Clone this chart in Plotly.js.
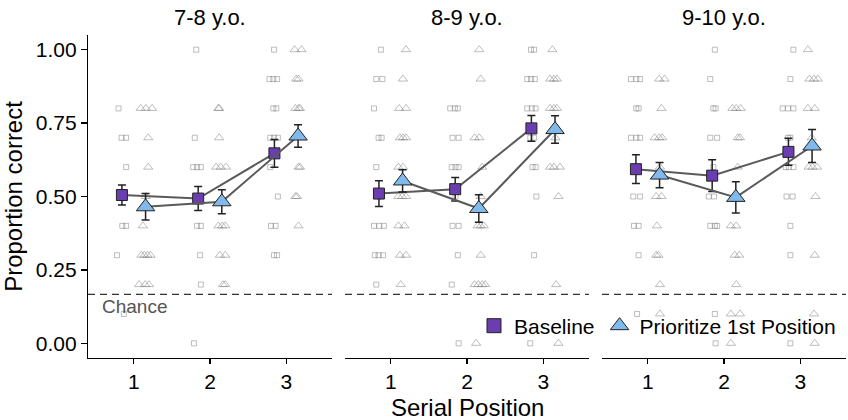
<!DOCTYPE html>
<html><head><meta charset="utf-8">
<script src="https://cdn.plot.ly/plotly-3.0.1.min.js"></script>
<style>html,body{margin:0;padding:0;background:#fff}#chart{width:848px;height:420px}</style>
</head><body><div id="chart"></div>
<script>
// ---- data ----
const ageGroups = ['7-8 y.o.', '8-9 y.o.', '9-10 y.o.'];
const positions = [1, 2, 3];
const seriesNames = ['Baseline', 'Prioritize 1st Position'];
const chance = 1 / 6;

// group means and standard errors, [age group][serial position]
const baseMean = [[0.505, 0.493, 0.647], [0.510, 0.525, 0.732], [0.593, 0.571, 0.652]];
const baseErr  = [[0.034, 0.041, 0.047], [0.044, 0.040, 0.044], [0.049, 0.054, 0.046]];
const prioMean = [[0.465, 0.482, 0.706], [0.553, 0.459, 0.728], [0.573, 0.497, 0.672]];
const prioErr  = [[0.045, 0.041, 0.038], [0.038, 0.047, 0.047], [0.043, 0.053, 0.056]];

// individual participants: [serial position, proportion correct, horizontal jitter]
const raw78Base = [[1,.8,-.20],[1,.7,-.16],[1,.7,-.10],[1,.6,-.10],[1,.5,-.16],[1,.4,-.15],[1,.4,-.10],[1,.3,-.22],[1,.1,-.13],
  [2,1,-.18],[2,.7,-.20],[2,.6,-.22],[2,.6,-.17],[2,.6,-.12],[2,.5,-.16],[2,.4,-.17],[2,.4,-.12],[2,.3,-.13],[2,.2,-.12],[2,0,-.21],
  [3,1,-.16],[3,.9,-.22],[3,.9,-.17],[3,.9,-.12],[3,.8,-.17],[3,.8,-.13],[3,.7,-.21],[3,.7,-.16],[3,.7,-.11],[3,.6,-.21],[3,.5,-.11],[3,.4,-.20],[3,.4,-.14],[3,.3,-.16],[3,.3,-.12]];
const raw78Prio = [[1,.8,.09],[1,.8,.16],[1,.8,.24],[1,.7,.19],[1,.6,.19],[1,.5,.16],[1,.4,.12],[1,.3,.10],[1,.3,.14],[1,.3,.18],[1,.3,.22],[1,.2,.07],[1,.2,.15],[1,.2,.20],
  [2,.8,.11],[2,.8,.12],[2,.7,.12],[2,.6,.08],[2,.6,.14],[2,.6,.21],[2,.4,.11],[2,.4,.16],[2,.4,.20],[2,.3,.13],[2,.3,.20],[2,.2,.17],[2,.2,.20],
  [3,1,.11],[3,1,.20],[3,.9,.13],[3,.9,.16],[3,.8,.12],[3,.8,.16],[3,.8,.18],[3,.6,.16],[3,.6,.18],[3,.5,.12],[3,.5,.14],[3,.4,.16]];
const raw89Base = [[1,1,-.13],[1,.9,-.19],[1,.9,-.11],[1,.8,-.22],[1,.7,-.16],[1,.7,-.12],[1,.6,-.19],[1,.5,-.15],[1,.4,-.22],[1,.4,-.15],[1,.4,-.09],[1,.3,-.21],[1,.3,-.16],[1,.3,-.10],[1,.2,-.19],
  [2,.8,-.22],[2,.8,-.16],[2,.8,-.12],[2,.7,-.19],[2,.7,-.11],[2,.6,-.20],[2,.6,-.15],[2,.6,-.11],[2,.5,-.15],[2,.4,-.19],[2,.4,-.11],[2,.3,-.12],[2,.2,-.20],[2,0,-.11],
  [3,1,-.16],[3,1,-.12],[3,.9,-.21],[3,.9,-.16],[3,.9,-.11],[3,.8,-.21],[3,.8,-.15],[3,.8,-.10],[3,.7,-.17],[3,.7,-.12],[3,.6,-.14],[3,.6,-.10],[3,.5,-.09],[3,.3,-.12],[3,0,-.17]];
const raw89Prio = [[1,1,.20],[1,.9,.16],[1,.8,.11],[1,.8,.20],[1,.7,.12],[1,.7,.16],[1,.7,.20],[1,.6,.10],[1,.6,.16],[1,.5,.10],[1,.5,.15],[1,.5,.20],[1,.4,.10],[1,.4,.18],[1,.3,.12],[1,.3,.20],[1,.2,.13],
  [2,1,.16],[2,.9,.18],[2,.7,.10],[2,.7,.16],[2,.6,.20],[2,.5,.18],[2,.4,.14],[2,.4,.18],[2,.4,.22],[2,.3,.18],[2,.2,.10],[2,.2,.15],[2,.2,.20],[2,.2,.24],[2,0,.12],
  [3,1,.12],[3,.9,.09],[3,.9,.14],[3,.9,.18],[3,.8,.09],[3,.8,.14],[3,.8,.18],[3,.7,.16],[3,.6,.09],[3,.6,.14],[3,.6,.22],[3,.5,.20],[3,.2,.17],[3,0,.20]];
const raw910Base = [[1,.9,-.22],[1,.9,-.15],[1,.9,-.10],[1,.8,-.15],[1,.8,-.12],[1,.7,-.22],[1,.7,-.15],[1,.7,-.10],[1,.6,-.14],[1,.5,-.19],[1,.5,-.10],[1,.4,-.18],[1,.4,-.12],[1,.3,-.12],[1,.1,-.14],
  [2,1,-.12],[2,.9,-.18],[2,.8,-.14],[2,.8,-.11],[2,.7,-.18],[2,.7,-.09],[2,.6,-.14],[2,.5,-.20],[2,.5,-.13],[2,.4,-.18],[2,.4,-.12],[2,.4,-.09],[2,.1,-.12],[2,0,-.11],
  [3,1,-.09],[3,.9,-.13],[3,.8,-.23],[3,.8,-.16],[3,.8,-.09],[3,.7,-.16],[3,.7,-.13],[3,.6,-.19],[3,.6,-.15],[3,.6,-.09],[3,.5,-.18],[3,.5,-.10],[3,.4,-.13],[3,.3,-.13],[3,0,-.13]];
const raw910Prio = [[1,.9,.15],[1,.9,.22],[1,.8,.18],[1,.7,.09],[1,.7,.15],[1,.7,.19],[1,.6,.16],[1,.5,.11],[1,.5,.18],[1,.4,.12],[1,.3,.11],[1,.3,.14],[1,.2,.16],[1,.1,.16],
  [2,.8,.11],[2,.8,.16],[2,.8,.22],[2,.7,.18],[2,.7,.21],[2,.6,.18],[2,.5,.17],[2,.4,.09],[2,.4,.16],[2,.3,.14],[2,.3,.20],[2,.2,.16],[2,.1,.09],[2,.1,.21],[2,0,.09],
  [3,1,.10],[3,.9,.12],[3,.9,.18],[3,.9,.23],[3,.8,.10],[3,.8,.19],[3,.7,.15],[3,.6,.11],[3,.6,.16],[3,.6,.22],[3,.5,.20],[3,.3,.19],[3,.1,.18],[3,0,.19]];

const rawBase = [raw78Base, raw89Base, raw910Base];
const rawPrio = [raw78Prio, raw89Prio, raw910Prio];

// ---- styling ----
const FONT = 'Liberation Sans, Arial, Helvetica, sans-serif';
const baseColor = '#6a3db0';
const prioColor = '#80b9ea';
const dodge = 0.155;
const xNames = ['x', 'x2', 'x3'];

const traces = [];
for (let p = 0; p < 3; p++) {
  traces.push({
    type: 'scatter', mode: 'markers', xaxis: xNames[p], yaxis: 'y', showlegend: false, hoverinfo: 'skip',
    x: rawBase[p].map(r => r[0] + r[2]), y: rawBase[p].map(r => r[1]),
    marker: { symbol: 'square-open', size: 5, color: 'rgba(125,125,125,0.5)', line: { width: 1 } }
  });
  traces.push({
    type: 'scatter', mode: 'markers', xaxis: xNames[p], yaxis: 'y', showlegend: false, hoverinfo: 'skip',
    x: rawPrio[p].map(r => r[0] + r[2]), y: rawPrio[p].map(r => r[1]),
    marker: { symbol: 'triangle-up-open', size: 8, color: 'rgba(125,125,125,0.5)', line: { width: 1 } }
  });
}
for (let p = 0; p < 3; p++) {
  traces.push({
    type: 'scatter', mode: 'lines+markers', xaxis: xNames[p], yaxis: 'y', showlegend: false,
    name: seriesNames[0],
    x: positions.map(v => v - dodge), y: baseMean[p],
    error_y: { type: 'data', array: baseErr[p], color: '#222', thickness: 1.5, width: 4 },
    line: { color: '#5a5a5a', width: 2 },
    marker: { symbol: 'square', size: 11, color: baseColor, line: { color: '#222', width: 1 } }
  });
  traces.push({
    type: 'scatter', mode: 'lines+markers', xaxis: xNames[p], yaxis: 'y', showlegend: false,
    name: seriesNames[1],
    x: positions.map(v => v + dodge), y: prioMean[p],
    error_y: { type: 'data', array: prioErr[p], color: '#222', thickness: 1.5, width: 4 },
    line: { color: '#5a5a5a', width: 2 },
    marker: { symbol: 'triangle-up', size: 16, color: prioColor, line: { color: '#222', width: 1 } }
  });
}
// legend entries
traces.push({ type: 'scatter', mode: 'markers', name: seriesNames[0], x: [null], y: [null], xaxis: 'x3', yaxis: 'y',
  marker: { symbol: 'square', size: 14, color: baseColor, line: { color: '#222', width: 1 } } });
traces.push({ type: 'scatter', mode: 'markers', name: seriesNames[1], x: [null], y: [null], xaxis: 'x3', yaxis: 'y',
  marker: { symbol: 'triangle-up', size: 17, color: prioColor, line: { color: '#222', width: 1 } } });

const domains = [[0, 0.3219], [0.3391, 0.6609], [0.6781, 1]];
function xaxis(p) {
  return {
    domain: domains[p], range: [0.4, 3.6], anchor: 'y',
    tickvals: positions, ticktext: positions.map(String),
    ticks: 'outside', ticklen: 5, tickwidth: 1.2, tickcolor: '#000',
    showline: true, linecolor: '#000', linewidth: 1.2,
    showgrid: false, zeroline: false,
    tickfont: { family: FONT, size: 21, color: '#000' }
  };
}
const layout = {
  width: 848, height: 420,
  margin: { l: 88, r: 2, t: 35, b: 62 },
  paper_bgcolor: '#fff', plot_bgcolor: '#fff',
  font: { family: FONT, color: '#000' },
  xaxis: xaxis(0), xaxis2: xaxis(1), xaxis3: xaxis(2),
  yaxis: {
    domain: [0, 1], range: [-0.05, 1.05], anchor: 'x',
    tickvals: [0, 0.25, 0.5, 0.75, 1], ticktext: ['0.00', '0.25', '0.50', '0.75', '1.00'],
    ticks: 'outside', ticklen: 6, tickwidth: 1.2, tickcolor: '#000',
    showline: true, linecolor: '#000', linewidth: 1.2,
    showgrid: false, zeroline: false,
    tickfont: { family: FONT, size: 21, color: '#000' },
    title: { text: 'Proportion correct', font: { family: FONT, size: 24, color: '#000' }, standoff: 8 }
  },
  showlegend: true,
  legend: {
    orientation: 'h', x: 0.9934, xanchor: 'right', y: 0.099, yanchor: 'middle',
    bgcolor: 'rgba(0,0,0,0)', font: { family: FONT, size: 21, color: '#000' },
    itemwidth: 30, tracegroupgap: 0
  },
  shapes: xNames.map(ax => ({
    type: 'line', xref: ax, yref: 'y', x0: 0.4, x1: 3.6, y0: chance, y1: chance,
    line: { color: '#333', width: 1.3, dash: '7px,5px' }, layer: 'below'
  })),
  annotations: [
    ...ageGroups.map((g, p) => ({
      text: g, xref: 'paper', yref: 'paper', x: (domains[p][0] + domains[p][1]) / 2, y: 1.053,
      xanchor: 'center', yanchor: 'middle', showarrow: false,
      font: { family: FONT, size: 22, color: '#000' }
    })),
    { text: 'Chance', xref: 'x', yref: 'y', x: 0.557, y: 0.126, xanchor: 'left', yanchor: 'middle',
      showarrow: false, font: { family: FONT, size: 19, color: '#555' } },
    { text: 'Serial Position', xref: 'paper', yref: 'paper', x: 0.5, y: -0.152, xanchor: 'center', yanchor: 'middle',
      showarrow: false, font: { family: FONT, size: 24, color: '#000' } }
  ]
};
Plotly.newPlot('chart', traces, layout, { displayModeBar: false, staticPlot: true });
</script></body></html>
